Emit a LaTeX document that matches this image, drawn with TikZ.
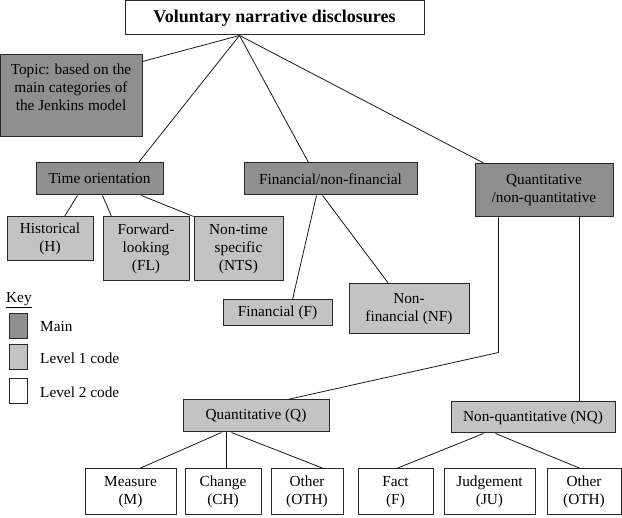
\documentclass[tikz,border=0pt]{standalone}
\usepackage{fontspec}
\setmainfont{Liberation Serif}
\usetikzlibrary{calc}
\definecolor{maingray}{RGB}{143,143,143}
\definecolor{levelone}{RGB}{195,195,195}
\definecolor{edgecol}{RGB}{40,40,40}
\begin{document}
\begin{tikzpicture}[x=1pt,y=-1pt,
  box/.style={draw=edgecol, line width=1pt, inner sep=1pt, align=center,
    font=\fontsize{15.3}{18}\selectfont},
  mainbox/.style={box, fill=maingray},
  lvlone/.style={box, fill=levelone},
  lvltwo/.style={box, fill=white},
  conn/.style={draw=black!90, line width=0.8pt},
  swatch/.style={draw=edgecol, line width=1pt, minimum width=18pt, minimum height=25pt, inner sep=0pt},
  keytext/.style={anchor=west, inner sep=0pt, font=\fontsize{15.3}{18}\selectfont}]
\useasboundingbox (0,0) rectangle (622,518);

% top level
\node[lvltwo, minimum width=299pt, minimum height=34pt, font=\bfseries\fontsize{18}{20}\selectfont] (top) at (274.5,18) {Voluntary narrative disclosures};
\node[mainbox, minimum width=142pt, minimum height=82pt] (topic) at (71,96) {Topic: based on the\\main categories of\\the Jenkins model\\\mbox{}};

% main categories
\node[mainbox, minimum width=127pt, minimum height=32pt] (time) at (99.5,179) {Time orientation};
\node[mainbox, minimum width=173pt, minimum height=32pt] (fin) at (330.5,179) {Financial/non-financial};
\node[mainbox, minimum width=138pt, minimum height=53pt] (quant) at (544,190.5) {Quantitative\\/non-quantitative};

% level 1
\node[lvlone, minimum width=86pt, minimum height=44pt] (hist) at (50,239) {Historical\\(H)};
\node[lvlone, minimum width=86pt, minimum height=64pt] (fwd) at (146,249) {Forward-\\looking\\(FL)};
\node[lvlone, minimum width=89pt, minimum height=64pt] (nts) at (238.5,249) {Non-time\\specific\\(NTS)};
\node[lvlone, minimum width=109pt, minimum height=26pt] (ffin) at (277.5,313) {Financial (F)};
\node[lvlone, minimum width=120pt, minimum height=50pt] (nf) at (409,309) {Non-\\financial (NF)};
\node[lvlone, minimum width=146pt, minimum height=32pt] (qq) at (256,416) {Quantitative (Q)};
\node[lvlone, minimum width=164pt, minimum height=31pt] (nq) at (533,417.5) {Non-quantitative (NQ)};

% level 2
\node[lvltwo, minimum width=91pt, minimum height=46pt] (meas) at (130.5,492) {Measure\\(M)};
\node[lvltwo, minimum width=76pt, minimum height=46pt] (chg) at (223,492) {Change\\(CH)};
\node[lvltwo, minimum width=72pt, minimum height=46pt] (oth) at (307,492) {Other\\(OTH)};
\node[lvltwo, minimum width=75pt, minimum height=46pt] (fact) at (395.5,492) {Fact\\(F)};
\node[lvltwo, minimum width=91pt, minimum height=46pt] (judg) at (489.5,492) {Judgement\\(JU)};
\node[lvltwo, minimum width=74pt, minimum height=46pt] (othb) at (584,492) {Other\\(OTH)};

% key
\node[keytext] (keylbl) at (6,300) {\underline{Key}};
\node[swatch, fill=maingray] (kmain) at (18,326.5) {};
\node[swatch, fill=levelone] (klone) at (18,357.5) {};
\node[swatch, fill=white] (kltwo) at (18,391.5) {};
\node[keytext] (kmaint) at (40,327) {Main};
\node[keytext] (klonet) at (40,358) {Level 1 code};
\node[keytext] (kltwot) at (40,392) {Level 2 code};

% connectors from top
\coordinate (hub) at ($(top.south west)+(115,0)$);
\draw[conn] (hub) -- ($(topic.north east)+(0,7)$);
\draw[conn] (hub) -- ($(time.north west)+(103,0)$);
\draw[conn] (hub) -- ($(fin.north west)+(65,0)$);
\draw[conn] (hub) -- ($(quant.north west)+(10,0)$);

% time orientation
\draw[conn] ($(time.south west)+(42,0)$) -- ($(hist.north west)+(58,0)$);
\draw[conn] ($(time.south west)+(67,0)$) -- ($(fwd.north west)+(9,0)$);
\draw[conn] ($(time.south west)+(106,0)$) -- (nts.north west);

% financial
\draw[conn] ($(fin.south west)+(73,0)$) -- ($(ffin.north west)+(70,0)$);
\draw[conn] ($(fin.south west)+(79,0)$) -- ($(nf.north west)+(40,0)$);

% quantitative
\coordinate (qa) at ($(quant.south west)+(24,0)$);
\coordinate (qbend) at ($(qa)+(0,135)$);
\draw[conn] (qa) -- (qbend) -- ($(qq.north west)+(105,0)$);
\coordinate (qb) at ($(quant.south west)+(105,0)$);
\draw[conn] (qb) -- (qb |- nq.north);

% level 2 connectors
\draw[conn] ($(qq.south west)+(39,0)$) -- ($(meas.north west)+(55,0)$);
\draw[conn] ($(qq.south west)+(44,0)$) -- ($(chg.north west)+(42,0)$);
\draw[conn] ($(qq.south west)+(49,0)$) -- ($(oth.north west)+(53,0)$);
\draw[conn] ($(nq.south west)+(33,0)$) -- ($(fact.north west)+(39,0)$);
\draw[conn] ($(nq.south west)+(45,0)$) -- ($(othb.north west)+(34,0)$);
\end{tikzpicture}
\end{document}
